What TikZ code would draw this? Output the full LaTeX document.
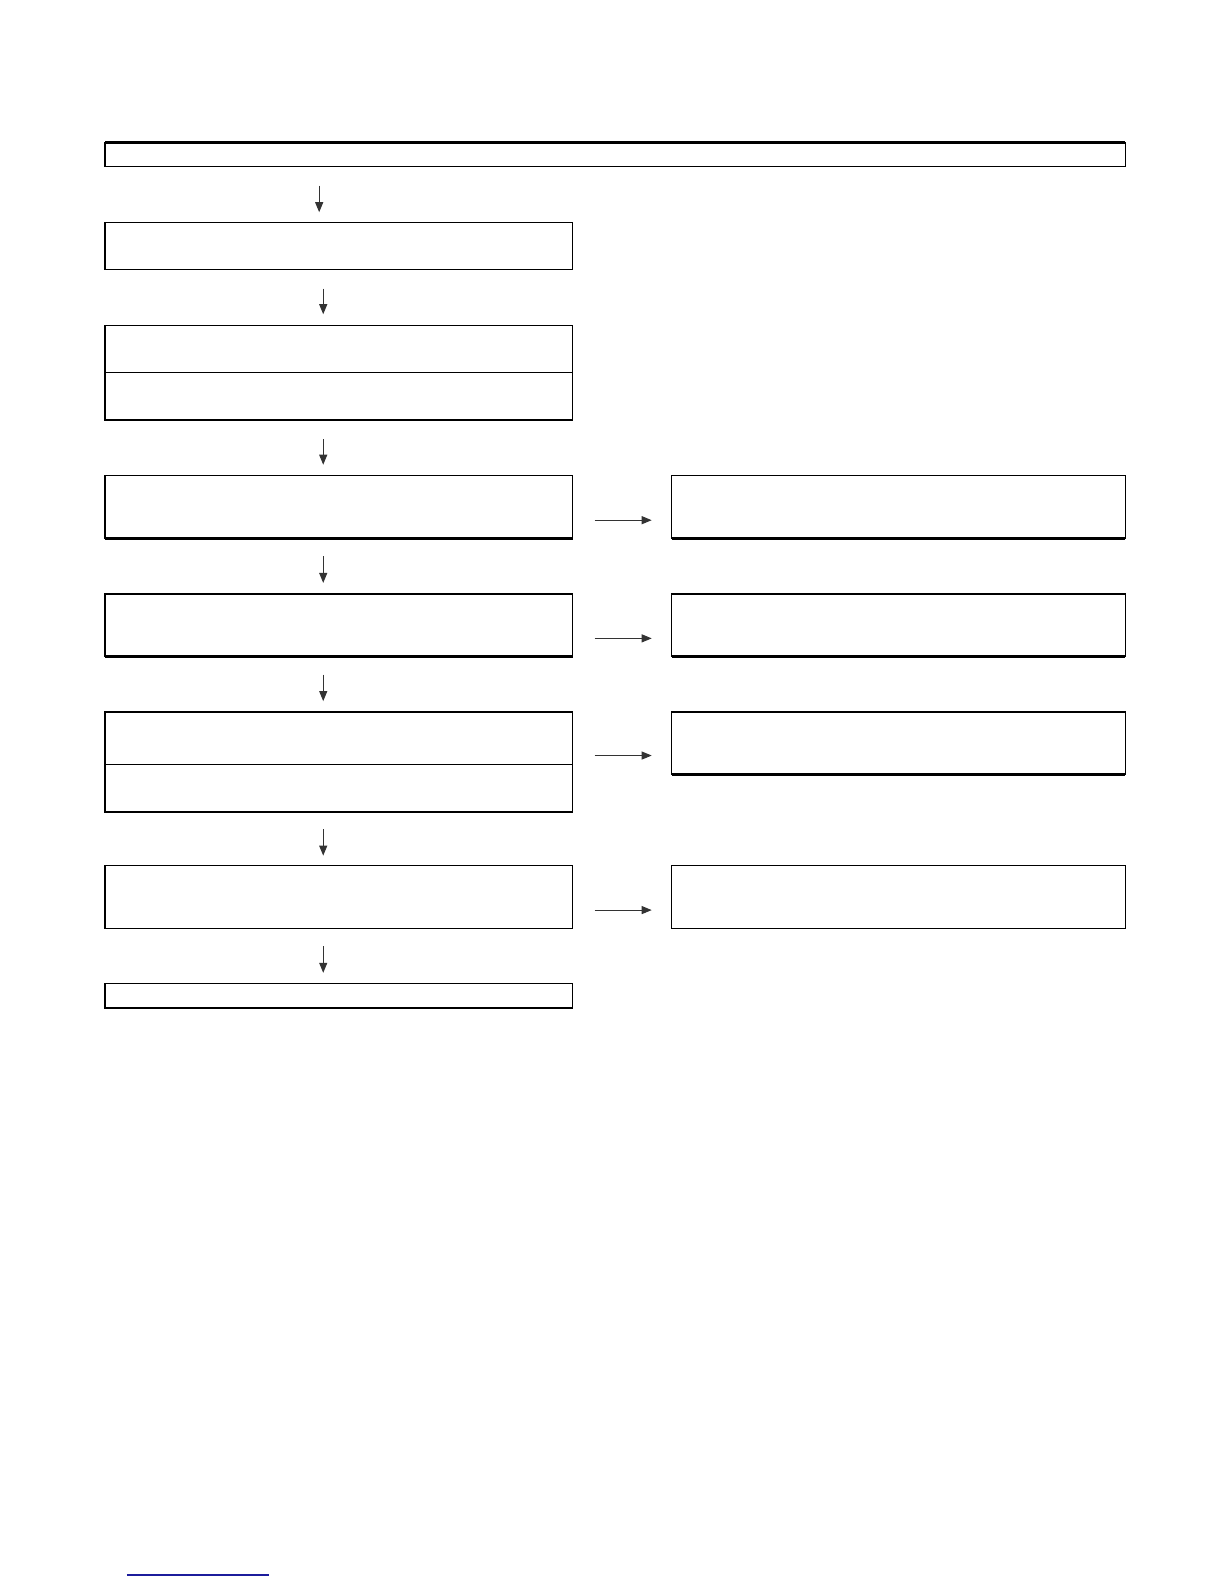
\documentclass[tikz,border=0pt]{standalone}
\usetikzlibrary{arrows.meta,calc}
\definecolor{arrgray}{HTML}{333333}
\definecolor{linkblue}{HTML}{1C1C9C}
\def\sc{1.0101}
\begin{document}
\begin{tikzpicture}[x=1.0101pt,y=-1.0101pt,
  box/.style={draw=black,line width=1.3pt,rectangle,inner sep=0pt,outer sep=0pt,anchor=north west,minimum width=\sc*463pt},
  rbox/.style={draw=black,line width=1.3pt,rectangle,inner sep=0pt,outer sep=0pt,anchor=north west,minimum width=\sc*449pt},
  heavy/.style={line width=2.6pt},
  arr/.style={draw=arrgray,line width=1pt,-{Triangle[length=10pt,width=8pt]}},
  varr/.style={arr,shorten <=19pt,shorten >=11pt},
  harr/.style={arr,shorten <=22pt,shorten >=20pt}]
\useasboundingbox (0,0) rectangle (1211.8,1568.2);
% top wide box
\node[box,minimum width=\sc*1010pt,minimum height=\sc*24pt] (top) at (104,141) {};
\draw[line width=2.2pt] (top.north west) -- (top.north east);
% left column
\node[box,minimum height=\sc*47pt] (b1) at (104,220) {};
\node[box,minimum height=\sc*47pt] (b2a) at (104,322) {};
\node[box,minimum height=\sc*47pt] (b2b) at (104,369) {};
\node[box,minimum height=\sc*62pt] (b3) at (104,471) {};
\node[box,minimum height=\sc*62pt] (b4) at (104,588) {};
\node[box,minimum height=\sc*52pt] (b5a) at (104,705) {};
\node[box,minimum height=\sc*47pt] (b5b) at (104,757) {};
\node[box,minimum height=\sc*62pt] (b6) at (104,857) {};
\node[box,minimum height=\sc*24pt] (b7) at (104,974) {};
% right column
\node[rbox,minimum height=\sc*62pt] (r1) at (665,471) {};
\node[rbox,minimum height=\sc*62pt] (r2) at (665,588) {};
\node[rbox,minimum height=\sc*62pt] (r3) at (665,705) {};
\node[rbox,minimum height=\sc*62pt] (r4) at (665,857) {};
% heavier bottom edges
\foreach \n in {b2b,b3,b4,b5b,r1,r2,r3}{\draw[heavy] (\n.south west) -- (\n.south east);}
% vertical arrows
\draw[arr,shorten <=19pt,shorten >=10pt] ([xshift=-\sc*19.5pt]top.south -| b1.north) -- ([xshift=-\sc*19.5pt]b1.north);
\draw[varr] ([xshift=-\sc*15.5pt]b1.south) -- ([xshift=-\sc*15.5pt]b2a.north);
\draw[varr] ([xshift=-\sc*15.5pt]b2b.south) -- ([xshift=-\sc*15.5pt]b3.north);
\draw[varr,shorten <=18pt] ([xshift=-\sc*15.5pt]b3.south) -- ([xshift=-\sc*15.5pt]b4.north);
\draw[varr,shorten <=18pt] ([xshift=-\sc*15.5pt]b4.south) -- ([xshift=-\sc*15.5pt]b5a.north);
\draw[varr,shorten <=17pt,shorten >=10pt] ([xshift=-\sc*15.5pt]b5b.south) -- ([xshift=-\sc*15.5pt]b6.north);
\draw[varr,shorten <=18pt] ([xshift=-\sc*15.5pt]b6.south) -- ([xshift=-\sc*15.5pt]b7.north);
% horizontal arrows
\coordinate (h1) at (0,515);
\coordinate (h2) at (0,632);
\coordinate (h3) at (0,748);
\coordinate (h4) at (0,901);
\draw[harr] (b3.east |- h1) -- (r1.west |- h1);
\draw[harr] (b4.east |- h2) -- (r2.west |- h2);
\draw[harr] (b5a.east |- h3) -- (r3.west |- h3);
\draw[harr] (b6.east |- h4) -- (r4.west |- h4);
% blue underline at foot of page
\draw[linkblue,line width=1.5pt] (125.7,1559.2) -- (266.3,1559.2);
\end{tikzpicture}
\end{document}
